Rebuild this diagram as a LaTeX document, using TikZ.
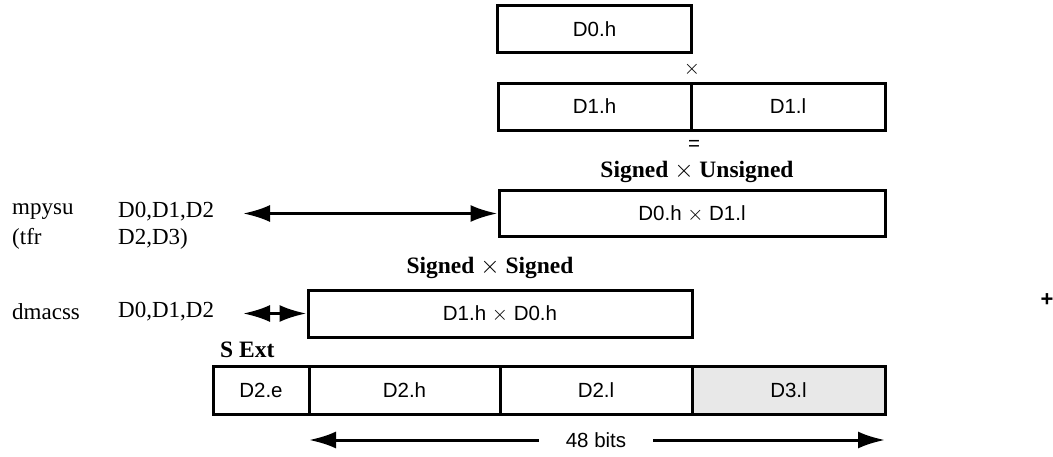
\documentclass[tikz,border=0pt]{standalone}
\usepackage{fontspec}
\setmainfont{Liberation Serif}
\setsansfont{Liberation Sans}
\usetikzlibrary{arrows.meta}
\begin{document}
\begin{tikzpicture}[x=1pt,y=-1pt,
  cell/.style={draw,line width=3pt,inner sep=0pt,minimum height=47pt,font=\sffamily\fontsize{20.5}{24}\selectfont},
  lbl/.style={font=\fontsize{23}{27}\selectfont,inner sep=0pt,anchor=west},
  blbl/.style={font=\bfseries\fontsize{23.5}{27}\selectfont,inner sep=0pt},
  sym/.style={font=\sffamily\fontsize{20.5}{24}\selectfont,inner sep=0pt},
  arr/.style={line width=3pt,{Latex[length=27pt,width=17pt]}-{Latex[length=27pt,width=17pt]}},
  rarr/.style={line width=3pt,-{Latex[length=27pt,width=17pt]}}
]
\useasboundingbox (0,0) rectangle (1053,456);
% top operands
\node[cell,minimum width=194pt] (d0h) at (594.5,29) {D0.h};
\node[sym] (times) at (692,69) {$\times$};
\node[cell,minimum width=193pt] (d1h) at (594.5,106.5) {D1.h};
\node[cell,minimum width=194pt] (d1l) at (788,106.5) {D1.l};
\node[sym] (eq) at (694,145) {=};
\node[blbl] (su) at (697,172) {Signed $\times$ Unsigned};
\node[cell,minimum width=386pt,minimum height=46pt] (p1) at (692,213.5) {D0.h $\times$ D1.l};
% left instructions
\node[lbl] (mpysu) at (12,212) {mpysu};
\node[lbl] (mpyargs) at (118,212) {D0,D1,D2};
\node[lbl] (tfr) at (12,239) {(tfr};
\node[lbl] (tfrargs) at (118,239) {D2,D3)};
\coordinate (a1) at (243,213.5);
\draw[arr] (a1) -- (p1.west);
% signed x signed
\node[blbl] (ss) at (490,268) {Signed $\times$ Signed};
\node[cell,minimum width=384pt] (p2) at (500,313.5) {D1.h $\times$ D0.h};
\node[lbl] (dmacss) at (12,312) {dmacss};
\node[lbl] (dmacargs) at (118,312) {D0,D1,D2};
\coordinate (a2) at (243,313.5);
\draw[arr] (a2) -- (p2.west);
% result
\node[blbl,anchor=west] (sext) at (220,350) {S Ext};
\node[cell,minimum width=96pt,minimum height=48pt] (d2e) at (261,390) {D2.e};
\node[cell,minimum width=191pt,minimum height=48pt] (d2h) at (404.5,390) {D2.h};
\node[cell,minimum width=192pt,minimum height=48pt] (d2l) at (596,390) {D2.l};
\node[cell,minimum width=193pt,minimum height=48pt,fill=gray!18] (d3l) at (788.5,390) {D3.l};
% 48 bits
\node[sym,inner xsep=27pt] (bits) at (596,440) {48 bits};
\coordinate (b1) at (309,440);
\coordinate (b2) at (885,440);
\draw[rarr] (bits.west) -- (b1);
\draw[rarr] (bits.east) -- (b2);
% stray plus
\node[sym,font=\sffamily\bfseries\fontsize{22}{24}\selectfont] (plus) at (1047,300) {+};
\end{tikzpicture}
\end{document}
